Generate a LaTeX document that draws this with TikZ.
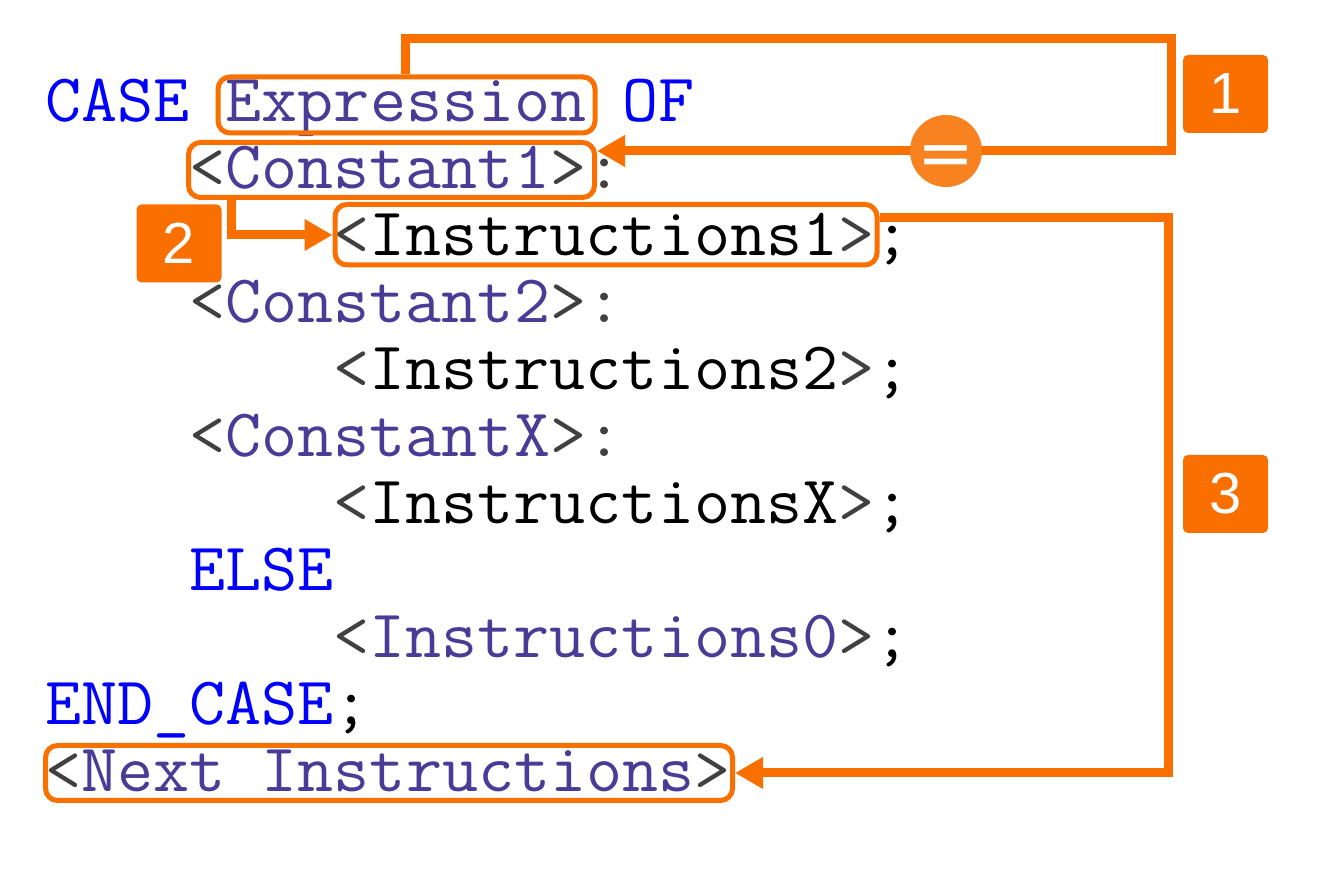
\documentclass[tikz,border=0pt]{standalone}
\usepackage{fontspec}
\setmainfont{Liberation Sans}
\newfontfamily\eqfont{DejaVu Sans}
\usetikzlibrary{arrows.meta,fit}
\definecolor{orng}{HTML}{F97000}
\definecolor{orngl}{HTML}{F7821F}
\definecolor{kwblue}{HTML}{0000FF}
\definecolor{idpurple}{HTML}{4A3C96}
\definecolor{brgray}{HTML}{404040}
\newcommand{\kw}[1]{\textcolor{kwblue}{#1}}
\newcommand{\pu}[1]{\textcolor{idpurple}{#1}}
\newcommand{\gr}[1]{\textcolor{brgray}{#1}}
\newcommand{\cl}[1]{\scalebox{1.03}[1]{#1}}
\begin{document}
\begin{tikzpicture}[x=0.5pt,y=-0.5pt,
  code/.style={anchor=base west, inner sep=0pt, font=\ttfamily\fontsize{34}{40}\selectfont, text=black},
  hbox/.style={draw=orng, line width=2.5pt, rounded corners=6pt, inner sep=0pt},
  conn/.style={draw=orng, line width=4.5pt, -{Triangle[length=14pt,width=15pt]}},
  numbox/.style={fill=orng, rounded corners=2.5pt, inner sep=0pt, minimum width=42.5pt, minimum height=39pt, text=white, font=\fontsize{29}{30}\selectfont},
  eqcirc/.style={circle, fill=orngl, minimum size=36pt, inner sep=0pt},
  eqsign/.style={anchor=base, inner sep=0pt, text=white, font=\eqfont\fontsize{34}{34}\selectfont}]
\fill[white] (0,0) rectangle (1340,870);
\useasboundingbox (0,0) rectangle (1340,870);

% code lines
\node[code] (l0)  at (45,122) {\cl{\kw{CASE} \pu{Expression} \kw{OF}}};
\node[code] (l1)  at (189,189) {\cl{\gr{<}\pu{Constant1}\gr{>:}}};
\node[code] (l2)  at (333,256) {\cl{\gr{<}Instructions1\gr{>};}};
\node[code] (l3)  at (189,323) {\cl{\gr{<}\pu{Constant2}\gr{>:}}};
\node[code] (l4)  at (333,390) {\cl{\gr{<}Instructions2\gr{>};}};
\node[code] (l5)  at (189,457) {\cl{\gr{<}\pu{ConstantX}\gr{>:}}};
\node[code] (l6)  at (333,524) {\cl{\gr{<}InstructionsX\gr{>};}};
\node[code] (l7)  at (189,591) {\cl{\kw{ELSE}}};
\node[code] (l8)  at (333,658) {\cl{\gr{<}\pu{Instructions0}\gr{>};}};
\node[code] (l9)  at (45,725)  {\cl{\kw{END\_CASE};}};
\node[code] (l10) at (45,792)  {\cl{\gr{<}\pu{Next Instructions}\gr{>}}};

% highlight boxes
\node[hbox, fit={(218,77) (595,133)}] (expr) {};
\node[hbox, fit={(188.5,142.5) (594.5,197.5)}] (c1) {};
\node[hbox, fit={(335,204.5) (877,265)}] (i1) {};
\node[hbox, fit={(45.5,745.5) (732.5,800.5)}] (nx) {};

% numbered tags
\node[numbox] (n1) at (1225.5,94) {1};
\node[numbox] (n2) at (179,243.5) {2};
\node[numbox] (n3) at (1225.5,494) {3};

% connector 1 : Expression = Constant1
\coordinate (k1a) at (405,39);
\coordinate (k1b) at (1171,39);
\coordinate (k1c) at (1171,151);
\draw[conn] (k1a |- expr.north) -- (k1a) -- (k1b) -- (k1c) -- (k1c -| c1.east);
\node[eqcirc] (eq) at (946,151) {};
\node[eqsign] (eqs) at (946,177) {=};

% connector 2 : Constant1 -> Instructions1
\coordinate (k2a) at (231,235);
\draw[conn] (k2a |- c1.south) -- (k2a) -- (k2a -| i1.west);

% connector 3 : Instructions1 -> Next Instructions
\coordinate (k3a) at (1168,218);
\coordinate (k3b) at (1168,773);
\draw[conn] (k3a -| i1.east) -- (k3a) -- (k3b) -- (nx.east);
\end{tikzpicture}
\end{document}
